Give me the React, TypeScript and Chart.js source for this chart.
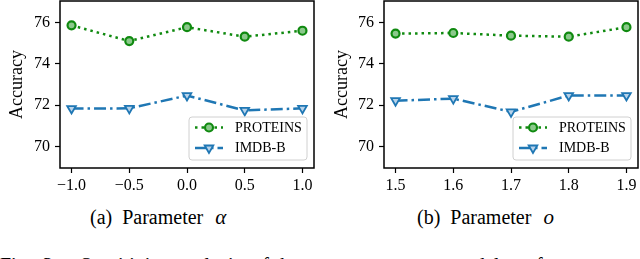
import React, { useEffect, useRef } from 'react';
import { Chart, registerables } from 'chart.js';

Chart.register(...registerables);

const SERIES_NAMES = ['PROTEINS', 'IMDB-B'];
const ALPHA_VALUES = [-1.0, -0.5, 0.0, 0.5, 1.0];
const ALPHA_PROTEINS = [75.87, 75.11, 75.78, 75.32, 75.61];
const ALPHA_IMDB = [71.84, 71.85, 72.47, 71.75, 71.85];
const O_VALUES = [1.5, 1.6, 1.7, 1.8, 1.9];
const O_PROTEINS = [75.47, 75.5, 75.37, 75.32, 75.78];
const O_IMDB = [72.22, 72.32, 71.68, 72.47, 72.47];
const Y_TICKS = [70, 72, 74, 76];
const ALPHA_TICKS = [-1.0, -0.5, 0.0, 0.5, 1.0];
const O_TICKS = [1.5, 1.6, 1.7, 1.8, 1.9];

const GREEN = '#108a10';
const BLUE = '#1f77b4';
const SERIF = '"Liberation Serif", "DejaVu Serif", serif';

const framePlugin = {
  id: 'frame',
  afterDatasetsDraw(chart: any) {
    const { ctx, chartArea: a } = chart;
    ctx.save();
    ctx.strokeStyle = '#000';
    ctx.lineWidth = 1.5;
    ctx.strokeRect(a.left, a.top, a.right - a.left, a.bottom - a.top);
    ctx.restore();
  },
};

function drawMarker(ctx: CanvasRenderingContext2D, ds: any, x: number, y: number) {
  ctx.save();
  ctx.setLineDash([]);
  ctx.lineWidth = ds.pointBorderWidth;
  ctx.strokeStyle = ds.pointBorderColor;
  ctx.fillStyle = ds.pointBackgroundColor;
  const r = ds.pointRadius;
  ctx.beginPath();
  if (ds.pointStyle === 'circle') {
    ctx.arc(x, y, r, 0, Math.PI * 2);
  } else {
    ctx.moveTo(x, y + r);
    ctx.lineTo(x - r * 0.866, y - r * 0.5);
    ctx.lineTo(x + r * 0.866, y - r * 0.5);
    ctx.closePath();
  }
  ctx.fill();
  ctx.stroke();
  ctx.restore();
}

const boxLegendPlugin = {
  id: 'boxLegend',
  afterDraw(chart: any) {
    const { ctx, chartArea: a } = chart;
    const w = 118;
    const h = 43;
    const right = a.right - 7;
    const bottom = a.bottom - 8;
    const left = right - w;
    const top = bottom - h;
    ctx.save();
    ctx.beginPath();
    const rr = 3;
    ctx.moveTo(left + rr, top);
    ctx.arcTo(right, top, right, bottom, rr);
    ctx.arcTo(right, bottom, left, bottom, rr);
    ctx.arcTo(left, bottom, left, top, rr);
    ctx.arcTo(left, top, right, top, rr);
    ctx.closePath();
    ctx.fillStyle = 'rgba(255,255,255,0.8)';
    ctx.fill();
    ctx.strokeStyle = '#d0d0d0';
    ctx.lineWidth = 1;
    ctx.stroke();
    chart.data.datasets.forEach((ds: any, i: number) => {
      const cy = top + 10.5 + i * 20.5;
      ctx.save();
      ctx.strokeStyle = ds.borderColor;
      ctx.lineWidth = ds.borderWidth;
      ctx.setLineDash(ds.borderDash);
      ctx.lineCap = 'butt';
      ctx.beginPath();
      ctx.moveTo(left + 6, cy);
      ctx.lineTo(left + 34, cy);
      ctx.stroke();
      ctx.restore();
      drawMarker(ctx, ds, left + 20, cy);
      ctx.save();
      ctx.fillStyle = '#000';
      ctx.font = `14px ${SERIF}`;
      ctx.textBaseline = 'middle';
      ctx.fillText(ds.label, left + 46, cy + 0.5);
      ctx.restore();
    });
    ctx.restore();
  },
};

type PanelProps = {
  xs: number[];
  a: number[];
  b: number[];
  xMin: number;
  xMax: number;
  xTicks: number[];
  yWidth: number;
  titlePad: number;
  padRight: number;
  fmt: (v: number) => string;
};

function zeroPad(s: any) {
  s.paddingTop = 0;
  s.paddingBottom = 0;
  s.paddingLeft = 0;
  s.paddingRight = 0;
}

function Panel(p: PanelProps) {
  const ref = useRef<HTMLCanvasElement | null>(null);
  useEffect(() => {
    if (!ref.current) return;
    const tickFont = { family: SERIF, size: 16 };
    const grid = {
      display: true,
      drawOnChartArea: false,
      drawTicks: true,
      tickLength: 5,
      tickWidth: 1.2,
      tickColor: '#000',
      color: '#000',
    };
    const chart = new Chart(ref.current, {
      type: 'line',
      data: {
        datasets: [
          {
            label: SERIES_NAMES[0],
            data: p.xs.map((x, i) => ({ x, y: p.a[i] })),
            borderColor: GREEN,
            borderWidth: 2.5,
            borderDash: [2.5, 4],
            pointStyle: 'circle',
            pointRadius: 4,
            pointBorderWidth: 2.2,
            pointBorderColor: GREEN,
            pointBackgroundColor: '#8cc98c',
            fill: false,
            tension: 0,
          } as any,
          {
            label: SERIES_NAMES[1],
            data: p.xs.map((x, i) => ({ x, y: p.b[i] })),
            borderColor: BLUE,
            borderWidth: 2.5,
            borderDash: [12, 4, 2.5, 4],
            pointStyle: 'triangle',
            pointRotation: 180,
            pointRadius: 5,
            pointBorderWidth: 1.8,
            pointBorderColor: BLUE,
            pointBackgroundColor: '#b9d3ea',
            fill: false,
            tension: 0,
          } as any,
        ],
      },
      options: {
        animation: false,
        responsive: false,
        maintainAspectRatio: false,
        events: [],
        layout: { autoPadding: false, padding: { left: 0, right: p.padRight, top: 1, bottom: 0 } },
        plugins: { legend: { display: false }, tooltip: { enabled: false } },
        scales: {
          x: {
            type: 'linear',
            min: p.xMin,
            max: p.xMax,
            afterBuildTicks: (s: any) => {
              s.ticks = p.xTicks.map((v) => ({ value: v }));
            },
            afterFit: (s: any) => {
              s.height = 32;
              zeroPad(s);
            },
            grid,
            border: { display: false },
            ticks: {
              color: '#000',
              font: tickFont,
              padding: 3,
              maxRotation: 0,
              autoSkip: false,
              callback: (v: any) => p.fmt(Number(v)),
            },
          },
          y: {
            type: 'linear',
            min: 68.96,
            max: 77.05,
            afterBuildTicks: (s: any) => {
              s.ticks = Y_TICKS.map((v) => ({ value: v }));
            },
            afterFit: (s: any) => {
              s.width = p.yWidth;
              zeroPad(s);
            },
            grid,
            border: { display: false },
            ticks: {
              color: '#000',
              font: tickFont,
              padding: 5,
              autoSkip: false,
              callback: (v: any) => String(Math.round(Number(v))),
            },
            title: {
              display: true,
              text: 'Accuracy',
              color: '#000',
              font: { family: SERIF, size: 18 },
              padding: { top: p.titlePad, bottom: 0 },
            },
          },
        },
      } as any,
      plugins: [framePlugin, boxLegendPlugin],
    });
    return () => chart.destroy();
  }, []);
  return <canvas ref={ref} width={320} height={200} style={{ width: 320, height: 200, display: 'block' }} />;
}

const fmtAlpha = (v: number) => v.toFixed(1).replace('-', '\u2212');
const fmtO = (v: number) => v.toFixed(1);

function Caption(props: { left: number; tag: string; sym: string }) {
  return (
    <div
      style={{
        position: 'absolute',
        top: 204,
        left: props.left,
        fontFamily: SERIF,
        fontSize: 20,
        color: '#000',
        whiteSpace: 'pre',
        lineHeight: '26px',
      }}
    >
      <span>{props.tag}</span>
      <span style={{ marginLeft: 10 }}>Parameter</span>
      <span style={{ marginLeft: 12, fontStyle: 'italic', fontSize: 21 }}>{props.sym}</span>
    </div>
  );
}

export default function App() {
  return (
    <div style={{ position: 'fixed', left: 0, top: 0, width: 640, height: 259, background: '#fff', overflow: 'hidden' }}>
      <div style={{ position: 'absolute', left: 0, top: 0 }}>
        <Panel xs={ALPHA_VALUES} a={ALPHA_PROTEINS} b={ALPHA_IMDB} xMin={-1.1} xMax={1.1} xTicks={ALPHA_TICKS} yWidth={60} titlePad={6} padRight={6} fmt={fmtAlpha} />
      </div>
      <div style={{ position: 'absolute', left: 320, top: 0 }}>
        <Panel xs={O_VALUES} a={O_PROTEINS} b={O_IMDB} xMin={1.48} xMax={1.92} xTicks={O_TICKS} yWidth={64} titlePad={11} padRight={2} fmt={fmtO} />
      </div>
      <Caption left={90} tag="(a)" sym="α" />
      <Caption left={417} tag="(b)" sym="o" />
      <div style={{ position: 'absolute', left: 0, top: 253, fontFamily: SERIF, fontSize: 20, lineHeight: '24px', whiteSpace: 'pre', wordSpacing: 6, color: '#000' }}>
        Fig. 3:  Sensitivity analysis of key parameters on model performance.
      </div>
    </div>
  );
}
